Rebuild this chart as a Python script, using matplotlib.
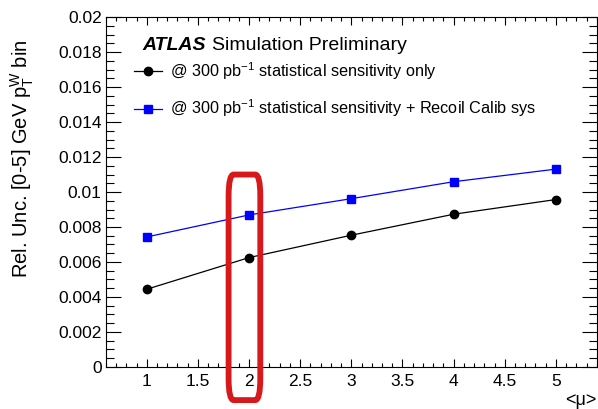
import numpy as np
import matplotlib
matplotlib.use("Agg")
import matplotlib.pyplot as plt
from matplotlib.ticker import MultipleLocator, FuncFormatter
from matplotlib.patches import FancyBboxPatch

plt.rcParams['font.family'] = ['Liberation Sans', 'DejaVu Sans']
plt.rcParams['mathtext.fontset'] = 'custom'
plt.rcParams['mathtext.rm'] = 'Liberation Sans'

# data
mu = [1, 2, 3, 4, 5]
stat_only = [0.00444, 0.00625, 0.00753, 0.00873, 0.00957]
stat_recoil = [0.00743, 0.00869, 0.00962, 0.01059, 0.01131]
label_stat = r'@ 300 pb$^{\mathregular{-1}}$ statistical sensitivity only'
label_recoil = r'@ 300 pb$^{\mathregular{-1}}$ statistical sensitivity + Recoil Calib sys'
highlight_mu = 2

fig = plt.figure(figsize=(5.98, 4.09), dpi=100)
ax = fig.add_axes([0.177, 0.103, 0.821, 0.855])

ax.plot(mu, stat_only, color='black', lw=0.9, marker='o', ms=6, label=label_stat)
ax.plot(mu, stat_recoil, color='blue', lw=0.9, marker='s', ms=6, mfc='blue', label=label_recoil)

ax.set_xlim(0.6, 5.4)
ax.set_ylim(0, 0.02)
ax.xaxis.set_major_locator(MultipleLocator(0.5))
ax.xaxis.set_minor_locator(MultipleLocator(0.1))
ax.yaxis.set_major_locator(MultipleLocator(0.002))
ax.yaxis.set_minor_locator(MultipleLocator(0.0005))
fmt = FuncFormatter(lambda v, p: '%g' % round(v, 6))
ax.xaxis.set_major_formatter(fmt)
ax.yaxis.set_major_formatter(fmt)
ax.tick_params(which='both', direction='in', top=True, right=True, labelsize=12.5, width=0.8)
ax.tick_params(axis='y', which='major', length=11, pad=3)
ax.tick_params(axis='y', which='minor', length=6)
ax.tick_params(axis='x', which='major', length=6, pad=5)
ax.tick_params(axis='x', which='minor', length=3)
for s in ax.spines.values():
    s.set_linewidth(0.8)

ax.set_ylabel(r'Rel. Unc. [0-5] GeV $\mathregular{p_T^W}$ bin', fontsize=14.5)
ax.yaxis.set_label_coords(-0.142, 0.595)
fig.text(0.997, 0.022, '<μ>', fontsize=13, ha='right', va='center')

atlas = ax.text(0.075, 0.92, 'ATLAS', transform=ax.transAxes, fontsize=14,
                fontweight='bold', fontstyle='italic', va='center')
ax.annotate('Simulation Preliminary', xy=(1, 0.5), xycoords=atlas,
            xytext=(4, 0), textcoords='offset points', fontsize=14, va='center')

ax.legend(loc='upper left', bbox_to_anchor=(0.058, 0.878), frameon=False, fontsize=11.7,
          handlelength=1.7, handletextpad=0.5, labelspacing=1.0, borderpad=0, borderaxespad=0)

# red highlight box around mu = 2
box = FancyBboxPatch((highlight_mu - 0.2, -0.0019), 0.31, 0.0129,
                     boxstyle='round,pad=0,rounding_size=0.05',
                     mutation_aspect=0.0129 / 0.31 * 0.6,
                     fill=False, edgecolor='#d7191c', lw=4.2, clip_on=False, zorder=5)
ax.add_patch(box)

fig.savefig('out.png', dpi=100)
